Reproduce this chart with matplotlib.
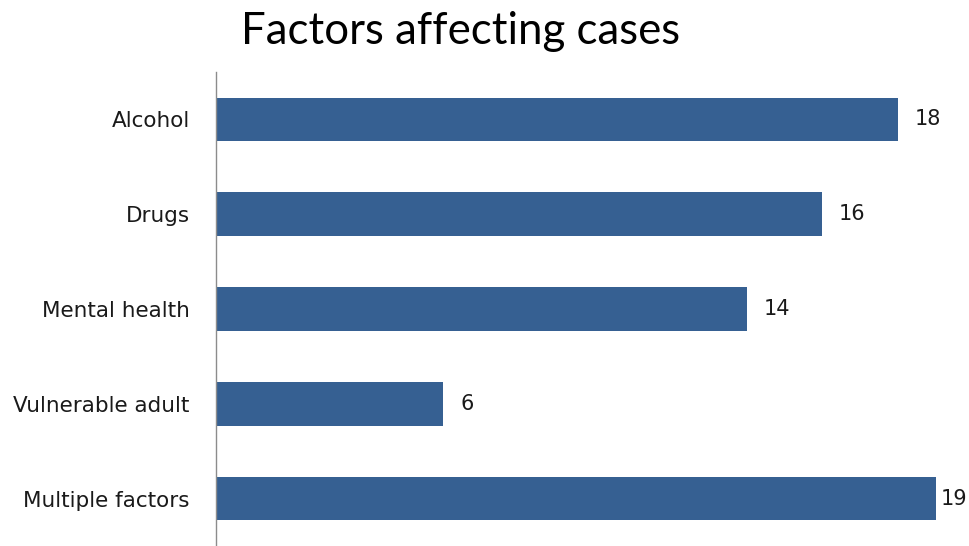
import matplotlib
matplotlib.use("Agg")
import matplotlib.pyplot as plt

categories = ["Alcohol", "Drugs", "Mental health", "Vulnerable adult", "Multiple factors"]
cases = [18, 16, 14, 6, 19]

BAR_COLOR = "#366092"
fig = plt.figure(figsize=(9.69, 5.46), dpi=100)
ax = fig.add_axes([216 / 969, 0.0, 753 / 969, 474 / 546])

ypos = list(range(len(categories)))
ax.barh(ypos, cases, height=0.46, color=BAR_COLOR)
ax.set_ylim(len(categories) - 0.5, -0.5)
ax.set_xlim(0, 753 / 37.9)

ax.set_yticks(ypos)
ax.set_yticklabels(categories, fontsize=15.5, color="#1a1a1a", family="DejaVu Sans")
ax.tick_params(axis="y", length=0, pad=19)
ax.set_xticks([])
for side in ("top", "right", "bottom"):
    ax.spines[side].set_visible(False)
ax.spines["left"].set_color("#8c8c8c")
ax.spines["left"].set_linewidth(1.0)

top = max(cases)
for y, v in zip(ypos, cases):
    off = 3 if v == top else 12
    ax.annotate(str(v), (v, y), xytext=(off, 0), textcoords="offset points",
                ha="left", va="center", fontsize=15, color="#1a1a1a")

fig.text(461 / 969, 1 - 32 / 546, "Factors affecting cases", ha="center", va="center",
         fontsize=31.5, family="Lato", color="black")

fig.savefig("out.png", dpi=100)
